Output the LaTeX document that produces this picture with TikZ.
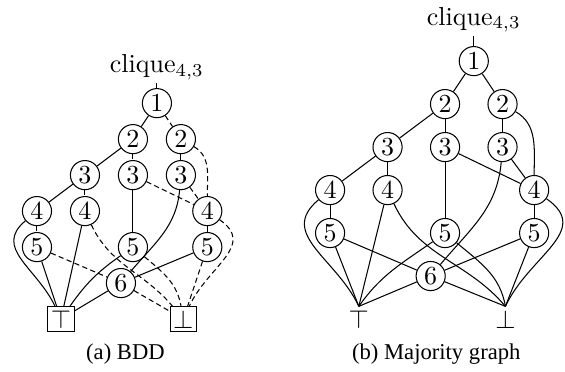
\documentclass[tikz,border=0pt]{standalone}
\usepackage{fontspec}
\newfontfamily\capfont{Liberation Serif}

\begin{document}
\begin{tikzpicture}
\tikzset{
  var/.style={draw, circle, inner sep=0pt, minimum size=11.2pt},
  lo/.style={dash pattern=on 2pt off 1.3pt},
  leaf/.style={draw, inner sep=1.2pt},
  bare/.style={inner sep=1.2pt},
  subcap/.style={font=\capfont\fontsize{8.7}{10}\selectfont},
}
\newcommand\solmut{
\node[var] (1) at (0,0) {1};
\node[var] (2a) at (-0.5,-1) {2};
\node[var] (2b) at (0.5,-1) {2};
\node[var] (3a) at (-1.5,-2) {3};
\node[var] (3b) at (-0.5,-2) {3};
\node[var] (3c) at (0.5,-2) {3};
\node[var] (4a) at (-2.5,-3) {4};
\node[var] (4b) at (-1.5,-3) {4};
\node[var] (4c) at (1.05,-3) {4};
\node[var] (5a) at (-2.5,-4) {5};
\node[var] (5b) at (-0.5,-4) {5};
\node[var] (5c) at (1.05,-4) {5};
\node[var] (6) at (-0.75,-5) {6};
\node[anchor=base, inner sep=1pt] (c) at (0,0.84) {clique$_{4,3}$};
\path[draw] (c) -- (1);
}
\newcommand\kaaret[1]{
% high edges
\path[draw] (1) -- (2a);
\path[draw] (2a) -- (3a);
\path[draw] (2b) -- (3c);
\path[draw] (3a) -- (4a);
\path[draw] (3b) -- (5b);
\path[draw] (3c) to[out=-95,in=50] (6);
\path[draw] (4a) to[out=-140,in=115,looseness=1.2] (t);
\path[draw] (4b) -- (t);
\path[draw] (4c) -- (5c);
\path[draw] (5a) -- (t);
\path[draw] (5b) to[out=-145,in=55] (t);
\path[draw] (5c) -- (6);
\path[draw] (6) -- (t);
% low edges
\path[draw,#1] (1) -- (2b);
\path[draw,#1] (2a) -- (3b);
\path[draw,#1] (2b) to[out=-30,in=90] (4c);
\path[draw,#1] (3a) -- (4b);
\path[draw,#1] (3b) -- (4c);
\path[draw,#1] (3c) -- (4c);
\path[draw,#1] (4a) -- (5a);
\path[draw,#1] (4b) to[out=-65,in=130] (f);
\path[draw,#1] (4c) to[out=-35,in=65,looseness=1.25] (f);
\path[draw,#1] (5a) -- (6);
\path[draw,#1] (5b) to[out=-40,in=100] (f);
\path[draw,#1] (5c) -- (f);
\path[draw,#1] (6) -- (f);
}
\useasboundingbox (0,0) rectangle (7.637,5.028);
% (a) BDD
\begin{scope}[xshift=2.121cm, yshift=3.634cm, x=0.6485cm, y=0.4864cm]
\node[leaf] (t) at (-2,-6) {$\top$};
\node[leaf] (f) at (0.55,-6) {$\bot$};
\solmut
\kaaret{lo}
\end{scope}
% (b) majority graph
\begin{scope}[xshift=6.404cm, yshift=4.202cm, x=0.777cm, y=0.581cm]
\node[bare] (T) at (-2,-6) {$\top$};
\node[bare] (F) at (0.55,-6) {$\bot$};
\coordinate (t) at (T.north);
\coordinate (f) at (F.north);
\solmut
\kaaret{}
\end{scope}
\node[subcap] (capa) at (1.696,0.243) {(a) BDD};
\node[subcap] (capb) at (5.897,0.243) {(b) Majority graph};
\end{tikzpicture}
\end{document}
